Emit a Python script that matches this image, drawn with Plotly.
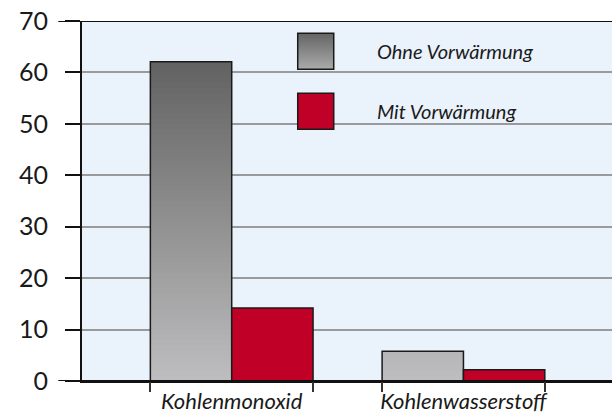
import plotly.graph_objects as go

categories = ["Kohlenmonoxid", "Kohlenwasserstoff"]
ohne = [62.1, 5.8]
mit = [14.2, 2.2]
series_names = ["Ohne Vorwärmung", "Mit Vorwärmung"]
y_ticks = [0, 10, 20, 30, 40, 50, 60, 70]

FONT = "Lato"
RED = "#c00026"
BARGAP = 0.298
X_RANGE = [-0.646, 1.641]

fig = go.Figure()

# gradient bands for the grey bars (colour depends on height)
light = (190, 190, 192)
dark = (98, 98, 98)
top_val = 62.0
n_bands = 70
for i in range(n_bands):
    lo = i
    hi = i + 1.4  # overlap to avoid seams
    t = min(1.0, (lo + 0.5) / top_val)
    c = tuple(int(round(light[k] + (dark[k] - light[k]) * t)) for k in range(3))
    heights = [max(0.0, min(v, hi) - lo) for v in ohne]
    if max(heights) <= 0:
        continue
    fig.add_trace(go.Bar(
        x=categories, y=heights, base=[lo] * len(categories),
        offsetgroup="ohne", marker=dict(color="rgb(%d,%d,%d)" % c, line=dict(width=0)),
        showlegend=False, hoverinfo="skip"))

# outline of grey bars
fig.add_trace(go.Bar(
    x=categories, y=ohne, offsetgroup="ohne", name=series_names[0],
    marker=dict(color="rgba(0,0,0,0)", line=dict(color="#1a1a1a", width=1.5)),
    showlegend=False))
fig.add_trace(go.Bar(
    x=categories, y=mit, offsetgroup="mit", name=series_names[1],
    marker=dict(color=RED, line=dict(color="#1a1a1a", width=1.5)),
    showlegend=False))

# custom legend squares on an overlay axis
fig.add_trace(go.Scatter(
    x=[0.441, 0.441], y=[0.916, 0.749], mode="markers", xaxis="x3", yaxis="y3",
    marker=dict(symbol="square", size=36, color=["#646464", RED],
                gradient=dict(type="vertical", color=["#ababab", RED]),
                line=dict(color="#1a1a1a", width=1.5)),
    showlegend=False, hoverinfo="skip"))

# group edge ticks
half = (1 - BARGAP) / 2
edge_vals = []
for i in range(len(categories)):
    edge_vals += [i - half, i + half]

fig.update_layout(
    width=612, height=415,
    margin=dict(l=82, r=0, t=21, b=34, autoexpand=False),
    paper_bgcolor="white", plot_bgcolor="#eaf2fb",
    barmode="group", bargap=BARGAP,
    font=dict(family=FONT, color="#1a1a1a"),
    xaxis=dict(range=X_RANGE, showline=True, linecolor="#111", linewidth=2,
               ticks="", tickfont=dict(size=22, style="italic"),
               showgrid=False, zeroline=False, ticklabelstandoff=0, automargin=False),
    xaxis2=dict(overlaying="x", anchor="y", side="bottom", type="linear",
                range=X_RANGE, tickvals=edge_vals, ticks="outside", ticklen=10,
                tickwidth=1.5, tickcolor="#333", showticklabels=False,
                showgrid=False, zeroline=False, showline=False, automargin=False),
    xaxis3=dict(overlaying="x", range=[0, 1], visible=False),
    yaxis3=dict(overlaying="y", range=[0, 1], visible=False),
    yaxis=dict(range=[0, 70], tickvals=y_ticks, showline=True, linecolor="#111",
               linewidth=2, ticks="outside", ticklen=15, tickwidth=1.5,
               tickcolor="#111", gridcolor="#9a9a9a", gridwidth=1.5,
               zeroline=False, tickfont=dict(size=25), ticklabelstandoff=12,
               automargin=False),
    showlegend=False,
)
fig.add_trace(go.Scatter(x=[None], y=[None], xaxis="x2", showlegend=False))

# long lines at 0 and 70
for yv in (0, 70):
    fig.add_shape(type="line", xref="paper", yref="y", x0=-0.0447, x1=1,
                  y0=yv, y1=yv, line=dict(color="#111", width=2.2), layer="above")

# legend labels
for yp, txt in zip([0.916, 0.749], series_names):
    fig.add_annotation(x=0.552, y=yp, xref="paper", yref="paper", text=txt,
                       showarrow=False, xanchor="left", yanchor="middle",
                       font=dict(size=20, style="italic", family=FONT, color="#1a1a1a"))

fig.write_html("out.html", config={"displayModeBar": False},
               post_script="document.body.style.margin='0';")
